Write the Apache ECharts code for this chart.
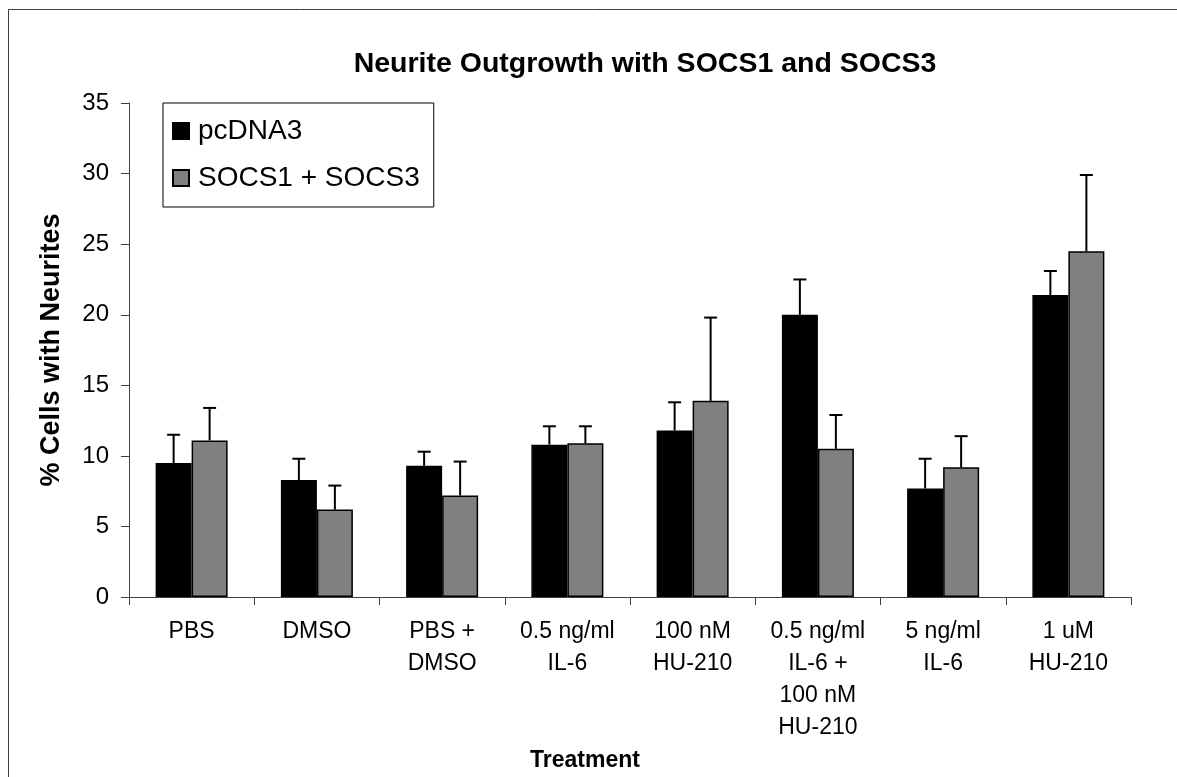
<!DOCTYPE html>
<html>
<head>
<meta charset="utf-8">
<script src="https://cdn.jsdelivr.net/npm/echarts@6/dist/echarts.min.js"></script>
<style>
html,body{margin:0;padding:0;background:#fff;}
#chart{width:1177px;height:777px;}
</style>
</head>
<body>
<div id="chart"></div>
<script>
var categories = ['PBS', 'DMSO', 'PBS +\nDMSO', '0.5 ng/ml\nIL-6', '100 nM\nHU-210', '0.5 ng/ml\nIL-6 +\n100 nM\nHU-210', '5 ng/ml\nIL-6', '1 uM\nHU-210'];
var seriesNames = ['pcDNA3', 'SOCS1 + SOCS3'];
var pcdnaMean = [9.5, 8.3, 9.3, 10.8, 11.8, 20.0, 7.7, 21.4];
var pcdnaErr  = [2.0, 1.5, 1.0, 1.3, 2.0, 2.5, 2.1, 1.7];
var socsMean  = [11.1, 6.2, 7.2, 10.9, 13.9, 10.5, 9.2, 24.5];
var socsErr   = [2.3, 1.7, 2.4, 1.2, 5.9, 2.4, 2.2, 5.4];
var yTicks = [0, 5, 10, 15, 20, 25, 30, 35];

var FONT = "'Liberation Sans', Arial, sans-serif";
var BAR_W = 36;

function errData(means, errs) {
  return means.map(function (m, i) { return [i, m, m + errs[i]]; });
}
function errRender(offset) {
  return function (params, api) {
    var base = api.coord([api.value(0), api.value(1)]);
    var top = api.coord([api.value(0), api.value(2)]);
    var x = base[0] + offset;
    var cap = 6.5;
    return {
      type: 'group',
      children: [
        { type: 'line', shape: { x1: x, y1: base[1], x2: x, y2: top[1] }, style: { stroke: '#000', lineWidth: 2 } },
        { type: 'line', shape: { x1: x - cap, y1: top[1], x2: x + cap, y2: top[1] }, style: { stroke: '#000', lineWidth: 2 } }
      ]
    };
  };
}

var chart = echarts.init(document.getElementById('chart'), null, { renderer: 'canvas' });
chart.setOption({
  backgroundColor: '#fff',
  animation: false,
  textStyle: { fontFamily: FONT },
  title: {
    text: 'Neurite Outgrowth with SOCS1 and SOCS3',
    left: 640, top: 45, textAlign: 'center',
    textStyle: { fontFamily: FONT, fontSize: 28.5, fontWeight: 'bold', color: '#000' }
  },
  legend: {
    orient: 'vertical',
    left: 163, top: 103,
    data: seriesNames,
    icon: 'rect',
    itemWidth: 16, itemHeight: 16, itemGap: 19,
    padding: [14, 14, 15, 9],
    backgroundColor: '#fff',
    borderColor: '#000', borderWidth: 1,
    textStyle: { fontFamily: FONT, fontSize: 28, color: '#000', padding: [0, 0, 0, 4] }
  },
  grid: { left: 129, right: 46, top: 103, bottom: 173, containLabel: false },
  xAxis: {
    type: 'category',
    data: categories,
    name: 'Treatment',
    nameLocation: 'middle',
    nameGap: 132,
    nameTextStyle: { fontFamily: FONT, fontSize: 23, fontWeight: 'bold', color: '#000', lineHeight: 23, padding: [0, 90, 0, 0] },
    axisLine: { lineStyle: { color: '#404040', width: 1 } },
    axisTick: { show: true, length: 8, lineStyle: { color: '#404040' } },
    axisLabel: { interval: 0, margin: 19, fontFamily: FONT, fontSize: 23, lineHeight: 32, color: '#000' }
  },
  yAxis: {
    type: 'value',
    min: 0, max: 35, interval: 5,
    name: '% Cells with Neurites',
    nameLocation: 'middle',
    nameGap: 64,
    nameTextStyle: { fontFamily: FONT, fontSize: 27, fontWeight: 'bold', color: '#000' },
    axisLine: { show: true, lineStyle: { color: '#404040', width: 1 } },
    axisTick: { show: true, length: 8, lineStyle: { color: '#404040' } },
    axisLabel: { margin: 20, fontFamily: FONT, fontSize: 24, color: '#000',
      formatter: function (v) { return yTicks.indexOf(v) >= 0 ? String(v) : ''; } },
    splitLine: { show: false }
  },
  series: [
    {
      name: seriesNames[0], type: 'bar', data: pcdnaMean,
      barWidth: BAR_W, barGap: '0%',
      itemStyle: { color: '#000', borderColor: '#000', borderWidth: 1.5 }
    },
    {
      name: seriesNames[1], type: 'bar', data: socsMean,
      barWidth: BAR_W, barGap: '0%',
      itemStyle: { color: '#808080', borderColor: '#000', borderWidth: 1.5 }
    },
    {
      type: 'custom', name: 'err1', data: errData(pcdnaMean, pcdnaErr),
      renderItem: errRender(-BAR_W / 2), z: 5, silent: true,
      encode: { x: 0, y: [1, 2] }
    },
    {
      type: 'custom', name: 'err2', data: errData(socsMean, socsErr),
      renderItem: errRender(BAR_W / 2), z: 5, silent: true,
      encode: { x: 0, y: [1, 2] }
    }
  ],
  graphic: [
    { type: 'line', shape: { x1: 8.5, y1: 9.5, x2: 1177, y2: 9.5 }, style: { stroke: '#404040', lineWidth: 1 } },
    { type: 'line', shape: { x1: 8.5, y1: 9.5, x2: 8.5, y2: 777 }, style: { stroke: '#404040', lineWidth: 1 } }
  ]
});
</script>
</body>
</html>
